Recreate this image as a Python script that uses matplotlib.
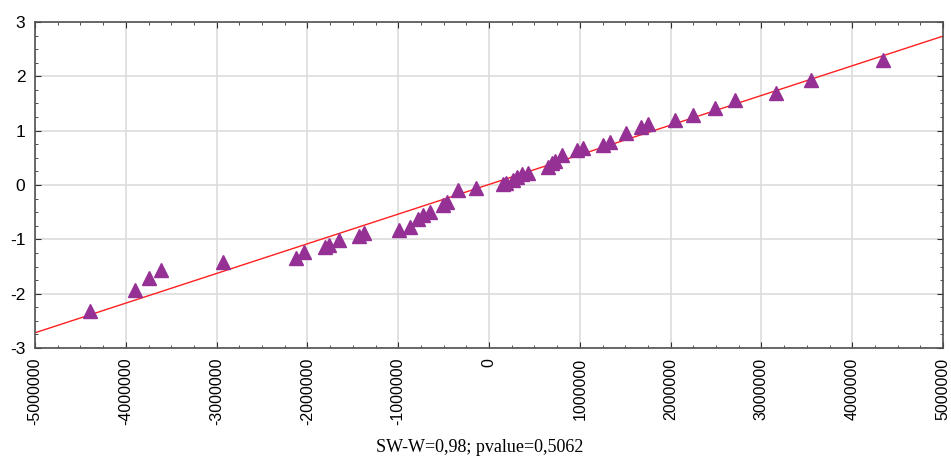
import matplotlib
matplotlib.use("Agg")
import matplotlib.pyplot as plt
from matplotlib.ticker import MultipleLocator, FuncFormatter

# residuals (in units of 1e6) and expected normal values
resid_m = [-4.394, -3.899, -3.744, -3.612, -2.930, -2.126, -2.037, -1.806, -1.762, -1.652,
           -1.432, -1.377, -0.991, -0.870, -0.782, -0.727, -0.650, -0.507, -0.463, -0.341,
           -0.143, 0.154, 0.187, 0.264, 0.308, 0.363, 0.430, 0.650, 0.694, 0.727,
           0.804, 0.969, 1.035, 1.256, 1.333, 1.509, 1.674, 1.751, 2.048, 2.247,
           2.489, 2.709, 3.161, 3.546, 4.339]
expected = [-2.32, -1.93, -1.71, -1.56, -1.42, -1.34, -1.23, -1.14, -1.10, -1.01,
            -0.94, -0.88, -0.83, -0.77, -0.63, -0.55, -0.50, -0.37, -0.31, -0.09,
            -0.06, 0.02, 0.04, 0.09, 0.15, 0.20, 0.22, 0.33, 0.40, 0.44,
            0.55, 0.64, 0.68, 0.74, 0.79, 0.96, 1.07, 1.12, 1.20, 1.29,
            1.42, 1.56, 1.69, 1.93, 2.30]
line_x = [-5000000, 5000000]
line_y = [-2.72, 2.74]
stat_label = "SW-W=0,98; pvalue=0,5062"

resid = [v * 1e6 for v in resid_m]

fig = plt.figure(figsize=(9.51, 4.61), dpi=100)
ax = fig.add_axes([35 / 951, 1 - 348 / 461, 908 / 951, 326 / 461])

ax.plot(line_x, line_y, color="#ff2020", lw=1.0, zorder=2)
ax.plot(resid, expected, ls="none", marker="^", ms=10.5, color="#953095",
        markeredgecolor="#953095", zorder=3)

ax.set_xlim(-5000000, 5000000)
ax.set_ylim(-3, 3)
ax.xaxis.set_major_locator(MultipleLocator(1000000))
ax.xaxis.set_minor_locator(MultipleLocator(250000))
ax.yaxis.set_major_locator(MultipleLocator(1))
ax.yaxis.set_minor_locator(MultipleLocator(0.25))
ax.xaxis.set_major_formatter(FuncFormatter(lambda v, p: "%d" % round(v)))
ax.yaxis.set_major_formatter(FuncFormatter(lambda v, p: "%d" % round(v)))

ax.grid(True, which="major", color="#dcdcdc", lw=1.2, zorder=0)
ax.set_axisbelow(True)
for s in ax.spines.values():
    s.set_color("#505050")
    s.set_linewidth(1.2)

ax.tick_params(which="both", direction="in", top=True, right=True, color="#303030")
ax.tick_params(which="major", length=4)
ax.tick_params(which="minor", length=2.5)
ax.tick_params(axis="x", labelrotation=90, labelsize=11.5, pad=7)
ax.tick_params(axis="y", labelsize=12.5, pad=7)
for t in ax.get_xticklabels() + ax.get_yticklabels():
    t.set_fontfamily("Liberation Sans")

fig.text(480 / 951, 1 - 447 / 461, stat_label, ha="center", va="center",
         fontsize=13, family="Liberation Serif")

fig.savefig("out.png", dpi=100)
